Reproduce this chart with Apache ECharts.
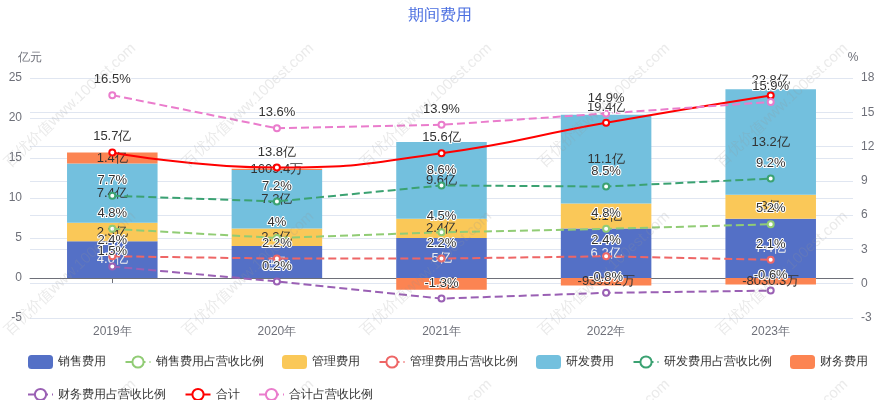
<!DOCTYPE html>
<html><head><meta charset="utf-8">
<script src="https://cdn.jsdelivr.net/npm/echarts@6/dist/echarts.min.js"></script>
<style>html,body{margin:0;padding:0;background:#fff}#c{width:880px;height:400px}</style>
</head><body><div id="c"></div>
<script>
const years = ['2019年', '2020年', '2021年', '2022年', '2023年'];
const sales = [4.6, 4.0, 5.0, 6.2, 7.4];
const salesPct = [4.8, 4.0, 4.5, 4.8, 5.2];
const admin = [2.3, 2.2, 2.4, 3.1, 3.0];
const adminPct = [2.4, 2.2, 2.2, 2.4, 2.1];
const rnd = [7.4, 7.3, 9.6, 11.1, 13.2];
const rndPct = [7.7, 7.2, 8.6, 8.5, 9.2];
const fin = [1.4, 0.16094, -1.46, -0.93932, -0.80303];
const finPct = [1.5, 0.2, -1.3, -0.8, -0.6];
const total = [15.7, 13.8, 15.6, 19.4, 22.8];
const totalPct = [16.5, 13.6, 13.9, 14.9, 15.9];
const leftMin = -5, leftMax = 25, leftStep = 5;
const rightMin = -3, rightMax = 18, rightStep = 3;
const watermarkText = '百优价值www.100est.com';

function fmtAmt(v) {
  if (Math.abs(v) >= 1) return parseFloat(v.toFixed(1)) + '亿';
  return parseFloat((v * 10000).toFixed(1)) + '万';
}
function fmtPct(v) { return parseFloat(v.toFixed(1)) + '%'; }

const lineLabel = {
  show: true, position: 'top', color: '#333', fontSize: 13,
  textBorderColor: '#fff', textBorderWidth: 2,
  formatter: p => fmtPct(p.value)
};
function bar(name, data) {
  return { name, type: 'bar', stack: 'cost', barWidth: '55%', data,
    label: { show: true, position: 'inside', fontSize: 13, formatter: p => fmtAmt(p.value) } };
}
function pctLine(name, data, color) {
  return { name, type: 'line', yAxisIndex: 1, data, symbol: 'emptyCircle', symbolSize: 6,
    itemStyle: color ? { color } : undefined,
    lineStyle: { width: 2, type: 'dashed' }, label: lineLabel };
}

// faint tiled watermark
const marks = [];
[170, 338, 506].forEach(y => {
  [12, 190, 368, 546, 724].forEach(x => {
    marks.push({ type: 'text', x, y, rotation: 43 * Math.PI / 180, z: 100, silent: true,
      style: { text: watermarkText, fill: 'rgba(150,150,150,0.2)', font: '15px sans-serif',
        textAlign: 'left', textVerticalAlign: 'bottom' } });
  });
});

const chart = echarts.init(document.getElementById('c'));
chart.setOption({
  animation: false,
  color: ['#5470c6', '#91cc75', '#fac858', '#ee6666', '#73c0de', '#3ba272', '#fc8452', '#9a60b4', '#ea7ccc'],
  title: { text: '期间费用', left: 'center', top: 3,
    textStyle: { color: '#4a6ee0', fontSize: 16, fontWeight: 'normal' } },
  legend: { left: 22, right: 10, top: 350, itemGap: 18.5, itemWidth: 25, itemHeight: 14,
    textStyle: { fontSize: 12, color: '#333' } },
  grid: { left: 30, right: 27, top: 78, bottom: 82 },
  graphic: marks,
  xAxis: [
    { type: 'category', data: years, position: 'bottom',
      axisLine: { show: false, onZero: false }, axisTick: { show: false },
      axisLabel: { color: '#6e7079', fontSize: 12, margin: 8 } },
    { type: 'category', data: years, position: 'bottom',
      axisLine: { show: true, onZero: true, lineStyle: { color: '#6e7079' } },
      axisTick: { show: true, alignWithLabel: true }, axisLabel: { show: false } }
  ],
  yAxis: [
    { type: 'value', name: '亿元', min: leftMin, max: leftMax, interval: leftStep,
      nameGap: 14, nameTextStyle: { color: '#6e7079', fontSize: 12 },
      axisLabel: { color: '#6e7079', fontSize: 12 },
      splitLine: { lineStyle: { color: '#e0e6f1' } } },
    { type: 'value', name: '%', min: rightMin, max: rightMax, interval: rightStep,
      nameGap: 14, nameTextStyle: { color: '#6e7079', fontSize: 12 },
      axisLabel: { color: '#6e7079', fontSize: 12 },
      splitLine: { lineStyle: { color: '#e0e6f1' } } }
  ],
  series: [
    bar('销售费用', sales),
    pctLine('销售费用占营收比例', salesPct),
    bar('管理费用', admin),
    pctLine('管理费用占营收比例', adminPct),
    bar('研发费用', rnd),
    pctLine('研发费用占营收比例', rndPct),
    bar('财务费用', fin),
    pctLine('财务费用占营收比例', finPct),
    { name: '合计', type: 'line', data: total, smooth: true, symbol: 'emptyCircle', symbolSize: 6,
      itemStyle: { color: '#ff0000' }, lineStyle: { width: 2 },
      label: Object.assign({}, lineLabel, { formatter: p => fmtAmt(p.value) }) },
    pctLine('合计占营收比例', totalPct, '#ea7ccc')
  ]
});
</script></body></html>
